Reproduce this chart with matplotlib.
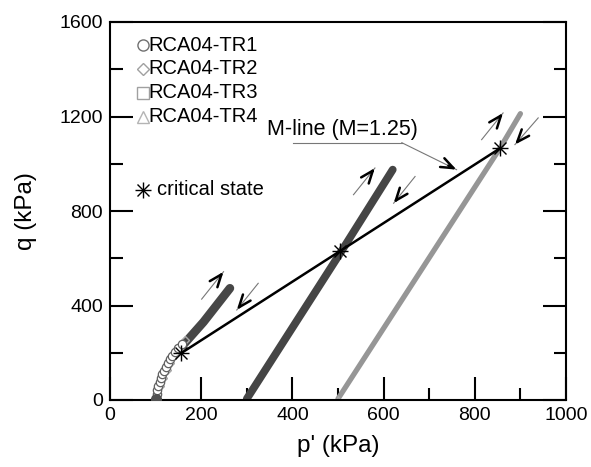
import numpy as np
import matplotlib.pyplot as plt

plt.rcParams['font.family'] = ['Liberation Sans', 'DejaVu Sans']

# stress paths (p', q in kPa)
tr1_p = [100, 102, 104, 106, 109, 112, 115, 119, 123, 127, 132, 137, 143, 150, 157]
tr1_q = [5, 25, 42, 58, 75, 92, 108, 124, 140, 156, 172, 188, 204, 220, 236]
tr1_band_p = [160, 205, 263]
tr1_band_q = [232, 330, 473]
tr2_p = [104, 110, 117, 124, 131, 139, 147, 155, 164]
tr2_q = [22, 60, 95, 128, 158, 185, 210, 232, 252]
tr3_p = [300, 505, 620]
tr3_q = [5, 622, 975]
tr4_p = [500, 855, 900]
tr4_q = [5, 1065, 1212]

crit_p = [155, 505, 855]
crit_q = [197, 630, 1065]

# loading / unloading arrows: tail p, tail q, head p, head q
arr_tail_p = [201, 325, 534, 669, 815, 939]
arr_tail_q = [427, 494, 869, 946, 1102, 1194]
arr_head_p = [249, 278, 581, 622, 862, 888]
arr_head_q = [543, 381, 982, 833, 1215, 1081]

leader_p = [401, 640, 760]
leader_q = [1089, 1089, 975]

fig = plt.figure(figsize=(5.91, 4.67), dpi=100)
ax = fig.add_axes([110/591, 67/467, 456/591, 378/467])

ax.plot(tr4_p, tr4_q, color='#969696', lw=3.8, solid_capstyle='round', zorder=2)
ax.plot(tr4_p[:1], tr4_q[:1], marker='^', ms=4, mfc='none', mec='#aaaaaa', ls='none', zorder=2)
ax.plot(tr3_p, tr3_q, color='#454545', lw=5.6, solid_capstyle='round', zorder=2)
ax.plot(tr1_band_p, tr1_band_q, color='#474747', lw=6.2, solid_capstyle='round', zorder=2)
ax.plot(tr2_p, tr2_q, marker='D', ms=4, mfc='none', mec='#a8a8a8', ls='none', zorder=3)
ax.plot(tr1_p, tr1_q, marker='o', ms=6, mfc='white', mec='#606060', mew=0.9, ls='none', zorder=3)
ax.plot(tr1_p[:1], tr1_q[:1], marker='o', ms=7, color='#505050', ls='none', zorder=3)

# M-line through critical states
ax.plot([crit_p[0], crit_p[-1]], [crit_q[0], crit_q[-1]], color='black', lw=1.8, zorder=4)
ax.plot(crit_p, crit_q, marker='+', ms=12, mew=1, color='black', ls='none', zorder=5)
ax.plot(crit_p, crit_q, marker='x', ms=8.5, mew=1, color='black', ls='none', zorder=5)

astyle = '->,head_length=0.9,head_width=0.35'
for tp, tq, hp, hq in zip(arr_tail_p, arr_tail_q, arr_head_p, arr_head_q):
    ax.plot([tp, hp], [tq, hq], color='#777777', lw=0.8, zorder=4)
    mp = tp + 0.85 * (hp - tp)
    mq = tq + 0.85 * (hq - tq)
    ax.annotate('', xy=(hp, hq), xytext=(mp, mq),
                arrowprops=dict(arrowstyle=astyle, color='black', lw=1.8,
                                shrinkA=0, shrinkB=0), zorder=5)

ax.plot(leader_p[:2], leader_q[:2], color='#777777', lw=0.8)
ax.plot(leader_p[1:], leader_q[1:], color='#777777', lw=0.8)
mp = leader_p[1] + 0.85 * (leader_p[2] - leader_p[1])
mq = leader_q[1] + 0.85 * (leader_q[2] - leader_q[1])
ax.annotate('', xy=(leader_p[2], leader_q[2]), xytext=(mp, mq),
            arrowprops=dict(arrowstyle=astyle, color='black', lw=1.8, shrinkA=0, shrinkB=0))
ax.text(344, 1146, 'M-line (M=1.25)', fontsize=15.5, va='center', ha='left')

# legend drawn by hand
leg_labels = ['RCA04-TR1', 'RCA04-TR2', 'RCA04-TR3', 'RCA04-TR4']
leg_markers = ['o', 'D', 's', '^']
leg_colors = ['#707070', '#a0a0a0', '#a0a0a0', '#b4b4b4']
leg_sizes = [8, 6.5, 8, 8.5]
leg_y = [0.939, 0.876, 0.813, 0.750]
for lab, mk, c, s, y in zip(leg_labels, leg_markers, leg_colors, leg_sizes, leg_y):
    ax.plot([0.072], [y], marker=mk, ms=s, mfc='none', mec=c, mew=1, transform=ax.transAxes, clip_on=False)
    ax.text(0.085, y, lab, fontsize=14.5, va='center', ha='left', transform=ax.transAxes)
ax.plot([0.072], [0.556], marker='+', ms=12, mew=1, color='black', transform=ax.transAxes)
ax.plot([0.072], [0.556], marker='x', ms=8.5, mew=1, color='black', transform=ax.transAxes)
ax.text(0.104, 0.556, 'critical state', fontsize=14.5, va='center', ha='left', transform=ax.transAxes)

ax.set_xlim(0, 1000)
ax.set_ylim(0, 1600)
ax.set_xticks([0, 200, 400, 600, 800, 1000])
ax.set_xticks([100, 300, 500, 700, 900], minor=True)
ax.set_yticks([0, 400, 800, 1200, 1600])
ax.set_yticks([200, 600, 1000, 1400], minor=True)
ax.tick_params(which='both', direction='in', top=False, right=True, width=1.5, labelsize=14)
ax.tick_params(which='major', length=16.5, pad=5)
ax.tick_params(which='minor', length=9)
for s in ax.spines.values():
    s.set_linewidth(1.5)

ax.set_xlabel("p' (kPa)", fontsize=17.5, labelpad=8)
ax.set_ylabel('q (kPa)', fontsize=17.5, labelpad=16)

fig.savefig('out.png', dpi=100)
